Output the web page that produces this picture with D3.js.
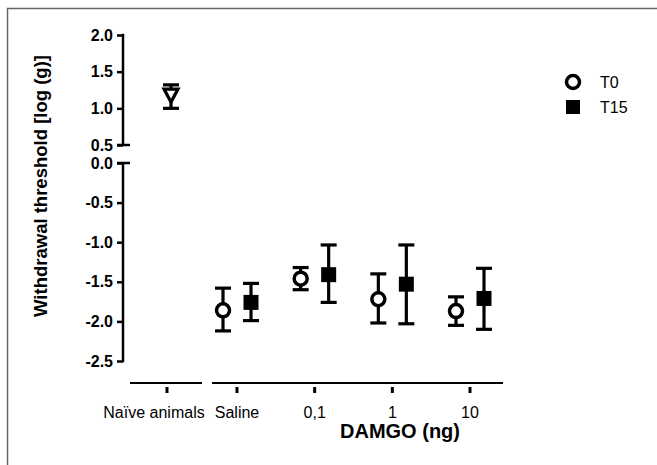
<!DOCTYPE html>
<html>
<head>
<meta charset="utf-8">
<script src="https://cdn.jsdelivr.net/npm/d3@7"></script>
<style>
  body { margin: 0; background: #fff; }
  svg text { font-family: "Liberation Sans", Arial, sans-serif; }
</style>
</head>
<body>
<svg id="chart" width="657" height="465"></svg>
<script>
// groups on the x axis
const groups = ['Naïve animals', 'Saline', '0,1', '1', '10'];
const doses = ['Saline', '0,1', '1', '10'];

// naive animals (triangle), mean and error bar ends
const naiveMean = 1.18;
const naiveLow = 1.0;
const naiveHigh = 1.32;

// T0 series (open circles)
const t0Mean = [-1.86, -1.46, -1.72, -1.87];
const t0Low  = [-2.12, -1.60, -2.02, -2.05];
const t0High = [-1.58, -1.32, -1.40, -1.69];

// T15 series (filled squares)
const t15Mean = [-1.76, -1.41, -1.53, -1.71];
const t15Low  = [-1.99, -1.76, -2.03, -2.10];
const t15High = [-1.52, -1.035, -1.035, -1.33];

const yTicksTop = [0.5, 1.0, 1.5, 2.0];
const yTicksBottom = [-2.5, -2.0, -1.5, -1.0, -0.5, 0.0];

const svg = d3.select('#chart');

// frame round the picture
svg.append('path')
  .attr('d', 'M7.5,465 V8.5 H657')
  .attr('fill', 'none')
  .attr('stroke', '#666')
  .attr('stroke-width', 1.5);

// two y segments (axis break)
const yTop = d3.scaleLinear().domain([0.5, 2.0]).range([145, 35]);
const yBot = d3.scaleLinear().domain([-2.5, 0]).range([361, 163]);
const y = v => (v >= 0.5 ? yTop(v) : yBot(v));

const xNaive = d3.scalePoint().domain(['Naïve animals']).range([167, 167]);
const xDose = d3.scalePoint().domain(doses).range([237, 470]);
const xPos = g => (g === 'Naïve animals' ? xNaive(g) : xDose(g));
const offT0 = -14, offT15 = 14;

const axisX = 123;
const fmt = v => d3.format('.1f')(v).replace('\u2212', '-');

function styleAxis(g) {
  g.select('.domain').remove();
  g.selectAll('.tick line').attr('stroke', '#000').attr('stroke-width', 2.5);
  g.selectAll('.tick text')
    .attr('fill', '#000')
    .style('font-size', '16px')
    .style('font-weight', 'bold');
}

svg.append('g')
  .attr('transform', `translate(${axisX},0)`)
  .call(d3.axisLeft(yTop).tickValues(yTicksTop).tickSize(6).tickPadding(4).tickFormat(fmt))
  .call(styleAxis);
svg.append('g')
  .attr('transform', `translate(${axisX},0)`)
  .call(d3.axisLeft(yBot).tickValues(yTicksBottom).tickSize(6).tickPadding(4).tickFormat(fmt))
  .call(styleAxis);

// y axis lines and break marks
svg.append('line').attr('x1', axisX).attr('x2', axisX)
  .attr('y1', yTop(2.0) - 1.2).attr('y2', yTop(0.5))
  .attr('stroke', '#000').attr('stroke-width', 2.5);
svg.append('line').attr('x1', axisX).attr('x2', axisX)
  .attr('y1', yBot(0)).attr('y2', yBot(-2.5) + 1.2)
  .attr('stroke', '#000').attr('stroke-width', 2.5);
[yTop(0.5), yBot(0)].forEach(v => {
  svg.append('line').attr('x1', axisX - 6).attr('x2', axisX + 7)
    .attr('y1', v).attr('y2', v)
    .attr('stroke', '#000').attr('stroke-width', 2.5);
});

// x axis, two segments
const axisY = 383;
svg.append('line').attr('x1', 130).attr('x2', 202).attr('y1', axisY).attr('y2', axisY)
  .attr('stroke', '#000').attr('stroke-width', 2);
svg.append('line').attr('x1', 212).attr('x2', 503).attr('y1', axisY).attr('y2', axisY)
  .attr('stroke', '#000').attr('stroke-width', 2);

groups.forEach(g => {
  const x = xPos(g);
  svg.append('line').attr('x1', x).attr('x2', x).attr('y1', axisY + 4).attr('y2', axisY + 10)
    .attr('stroke', '#000').attr('stroke-width', 3);
  svg.append('text')
    .attr('x', g === 'Naïve animals' ? 154 : x)
    .attr('y', 418)
    .attr('text-anchor', 'middle')
    .style('font-size', '16px')
    .text(g);
});

svg.append('text')
  .attr('x', 400).attr('y', 438)
  .attr('text-anchor', 'middle')
  .style('font-size', '20px').style('font-weight', 'bold')
  .text('DAMGO (ng)');

svg.append('text')
  .attr('transform', 'translate(47,186) rotate(-90)')
  .attr('text-anchor', 'middle')
  .style('font-size', '18.5px').style('font-weight', 'bold')
  .text('Withdrawal threshold [log (g)]');

// error bars
function errorBar(x, lo, hi) {
  const cap = 8;
  const g = svg.append('g').attr('stroke', '#000').attr('stroke-width', 3.2);
  g.append('line').attr('x1', x).attr('x2', x).attr('y1', y(lo)).attr('y2', y(hi));
  g.append('line').attr('x1', x - cap).attr('x2', x + cap).attr('y1', y(lo)).attr('y2', y(lo));
  g.append('line').attr('x1', x - cap).attr('x2', x + cap).attr('y1', y(hi)).attr('y2', y(hi));
}

// naive
const xn = xPos('Naïve animals') + 4;
errorBar(xn, naiveLow, naiveHigh);
const ty = y(naiveMean);
svg.append('path')
  .attr('d', `M${xn - 7},${ty - 6} L${xn + 7},${ty - 6} L${xn},${ty + 7} Z`)
  .attr('fill', '#fff').attr('stroke', '#000').attr('stroke-width', 3.2)
  .attr('stroke-linejoin', 'miter');

// T0
doses.forEach((d, i) => {
  const x = xDose(d) + offT0;
  errorBar(x, t0Low[i], t0High[i]);
  svg.append('circle').attr('cx', x).attr('cy', y(t0Mean[i])).attr('r', 6.5)
    .attr('fill', '#fff').attr('stroke', '#000').attr('stroke-width', 3.5);
});

// T15
doses.forEach((d, i) => {
  const x = xDose(d) + offT15;
  errorBar(x, t15Low[i], t15High[i]);
  svg.append('rect').attr('x', x - 7.5).attr('y', y(t15Mean[i]) - 7.5)
    .attr('width', 15).attr('height', 15).attr('fill', '#000');
});

// legend
svg.append('circle').attr('cx', 573).attr('cy', 82).attr('r', 6.5)
  .attr('fill', '#fff').attr('stroke', '#000').attr('stroke-width', 3.5);
svg.append('rect').attr('x', 566).attr('y', 100).attr('width', 14).attr('height', 14).attr('fill', '#000');
svg.append('text').attr('x', 600).attr('y', 88).style('font-size', '16px').text('T0');
svg.append('text').attr('x', 600).attr('y', 113).style('font-size', '16px').text('T15');
</script>
</body>
</html>
